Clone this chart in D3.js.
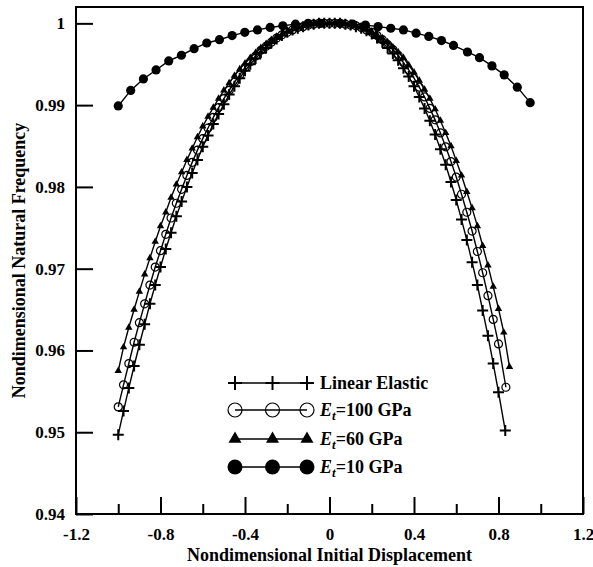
<!DOCTYPE html>
<head>
    <title>natural frequency vs initial displacement</title>
    <meta charset="utf-8">
    <style>
    body { margin: 0; background: #fff; }
    svg { display: block; }
    text {
        font-family: "Liberation Serif", "Times New Roman", serif;
        font-weight: bold;
        fill: #000;
    }
    .curve { fill: none; stroke: #000; stroke-width: 1.4; }
    </style>
    <script src="https://cdn.jsdelivr.net/npm/d3@7"></script>
</head>
<body>
<script>
// shared displacement steps for the dense series (left half, then right half)
const dispLeft = [-1.000,-0.975,-0.950,-0.925,-0.900,-0.875,-0.850,-0.825,-0.800,-0.775,
    -0.750,-0.725,-0.700,-0.675,-0.650,-0.625,-0.600,-0.575,-0.550,-0.525,
    -0.500,-0.475,-0.450,-0.425,-0.400,-0.375,-0.350,-0.325,-0.300,-0.275,
    -0.250,-0.225,-0.200,-0.175,-0.150,-0.125,-0.100,-0.075,-0.050,-0.025,0]
const dispRight = [0.025,0.050,0.075,0.100,0.125,0.150,0.175,0.200,0.225,0.250,
    0.275,0.300,0.325,0.350,0.375,0.400,0.425,0.450,0.475,0.500,
    0.525,0.550,0.575,0.600,0.625,0.650,0.675,0.700,0.725,0.750,0.775,0.800]

const linearElasticLeft = [0.9497,0.9526,0.9554,0.9581,0.9607,0.9632,0.9657,0.9680,0.9702,0.9724,
    0.9744,0.9764,0.9782,0.9800,0.9817,0.9833,0.9849,0.9863,0.9877,0.9889,
    0.9901,0.9913,0.9923,0.9933,0.9942,0.9950,0.9957,0.9964,0.9970,0.9976,
    0.9981,0.9985,0.9989,0.9992,0.9994,0.9996,0.9998,0.9999,1.0000,1.0000,1.0000]
const linearElasticRight = [1.0000,1.0000,0.9999,0.9998,0.9996,0.9994,0.9991,0.9987,0.9982,0.9977,
    0.9970,0.9963,0.9955,0.9945,0.9935,0.9923,0.9910,0.9896,0.9881,0.9864,
    0.9846,0.9827,0.9806,0.9784,0.9760,0.9735,0.9708,0.9680,0.9649,0.9618,0.9584,0.9549]
const linearElasticEnd = [[0.832, 0.9502]]

const et100Left = [0.9531,0.9558,0.9584,0.9610,0.9634,0.9657,0.9680,0.9702,0.9722,0.9742,
    0.9762,0.9780,0.9797,0.9814,0.9830,0.9845,0.9859,0.9872,0.9885,0.9897,
    0.9908,0.9918,0.9928,0.9937,0.9946,0.9953,0.9960,0.9967,0.9972,0.9977,
    0.9982,0.9986,0.9989,0.9992,0.9995,0.9996,0.9998,0.9999,1.0000,1.0000,1.0000]
const et100Right = [1.0000,1.0000,0.9999,0.9998,0.9997,0.9995,0.9992,0.9989,0.9985,0.9980,
    0.9974,0.9968,0.9961,0.9952,0.9943,0.9933,0.9922,0.9910,0.9896,0.9882,
    0.9866,0.9849,0.9831,0.9812,0.9791,0.9769,0.9746,0.9721,0.9695,0.9667,0.9638,0.9608]
const et100End = [[0.835, 0.9555]]

const et60Left = [0.9575,0.9604,0.9628,0.9650,0.9672,0.9693,0.9713,0.9733,0.9752,0.9769,
    0.9787,0.9803,0.9818,0.9833,0.9847,0.9861,0.9874,0.9886,0.9897,0.9908,
    0.9918,0.9927,0.9936,0.9944,0.9951,0.9958,0.9964,0.9970,0.9975,0.9980,
    0.9984,0.9987,0.9990,0.9993,0.9995,0.9997,0.9998,0.9999,1.0000,1.0000,1.0000]
const et60Right = [1.0000,1.0000,0.9999,0.9998,0.9997,0.9995,0.9993,0.9990,0.9986,0.9982,
    0.9977,0.9971,0.9965,0.9958,0.9949,0.9940,0.9930,0.9919,0.9908,0.9895,
    0.9881,0.9866,0.9850,0.9832,0.9814,0.9794,0.9774,0.9752,0.9728,0.9704,0.9678,0.9651]
const et60End = [[0.825, 0.9622], [0.852, 0.9580]]

const et10X = [-1.000,-0.941,-0.881,-0.821,-0.761,-0.701,-0.641,-0.581,-0.521,-0.461,-0.401,
    -0.341,-0.281,-0.221,-0.161,-0.101,-0.041,0.050,0.110,0.170,0.230,0.290,0.350,0.410,
    0.470,0.530,0.587,0.653,0.710,0.769,0.827,0.889,0.950]
const et10Y = [0.9899,0.9918,0.9932,0.9943,0.9954,0.9961,0.9969,0.9976,0.9980,0.9985,0.9989,
    0.9992,0.9995,0.9997,0.9999,1.0000,1.0000,1.0000,0.9999,0.9998,0.9996,0.9994,0.9992,0.9988,
    0.9984,0.9979,0.9973,0.9965,0.9958,0.9948,0.9937,0.9922,0.9903]

const xTicks = [-1.2, -0.8, -0.4, 0, 0.4, 0.8, 1.2]
const xTickLabels = ['-1.2', '-0.8', '-0.4', '0', '0.4', '0.8', '1.2']
const xMinorTicks = [-1.0, -0.6, -0.2, 0.2, 0.6, 1.0]
const yTicks = [0.94, 0.95, 0.96, 0.97, 0.98, 0.99, 1.0]
const yTickLabels = ['0.94', '0.95', '0.96', '0.97', '0.98', '0.99', '1']

const seriesNames = ['Linear Elastic', '100 GPa', '60 GPa', '10 GPa']
const seriesMarkers = ['plus', 'open', 'triangle', 'dot']

function zipPts(xs, ys) { return xs.map((d, i) => [d, ys[i]]) }

const series = [
    zipPts(dispLeft, linearElasticLeft).concat(zipPts(dispRight, linearElasticRight), linearElasticEnd),
    zipPts(dispLeft, et100Left).concat(zipPts(dispRight, et100Right), et100End),
    zipPts(dispLeft, et60Left).concat(zipPts(dispRight, et60Right), et60End),
    zipPts(et10X, et10Y)
]

const W = 593, H = 567
const margin = {top: 7, right: 10, bottom: 53, left: 76}
const width = W - margin.left - margin.right
const height = H - margin.top - margin.bottom

const x = d3.scaleLinear().domain([-1.2, 1.2]).range([0, width])
const y = d3.scaleLinear().domain([0.94, 1.002]).range([height, 0])

const svg = d3.select('body').append('svg')
    .attr('width', W)
    .attr('height', H)
  .append('g')
    .attr('transform', `translate(${margin.left},${margin.top})`)

// axes, ticks point inward
svg.append('g')
    .attr('transform', `translate(0,${height})`)
    .call(d3.axisBottom(x).tickValues(xTicks).tickSizeInner(-17).tickSizeOuter(0)
        .tickPadding(14).tickFormat((d, i) => xTickLabels[i]))
svg.append('g')
    .attr('transform', `translate(0,${height})`)
    .call(d3.axisBottom(x).tickValues(xMinorTicks).tickSizeInner(-10).tickSizeOuter(0).tickFormat(''))
svg.append('g')
    .call(d3.axisLeft(y).tickValues(yTicks).tickSizeInner(-17).tickSizeOuter(0)
        .tickPadding(11).tickFormat((d, i) => yTickLabels[i]))

svg.selectAll('.domain').remove()
svg.selectAll('.tick line').attr('stroke', '#000').attr('stroke-width', 2)
svg.selectAll('.tick text')
    .attr('font-family', null).attr('font-size', null)
    .style('font-size', '17px')

svg.append('rect')
    .attr('width', width).attr('height', height)
    .attr('fill', 'none').attr('stroke', '#000').attr('stroke-width', 2)

// markers
function drawMarker(sel, kind, s) {
    if (kind === 'plus') {
        sel.append('path')
            .attr('d', `M${-s},0H${s}M0,${-s}V${s}`)
            .attr('stroke', '#000').attr('stroke-width', 2).attr('fill', 'none')
    } else if (kind === 'open') {
        sel.append('circle').attr('r', s)
            .attr('fill', 'none').attr('stroke', '#000').attr('stroke-width', 1.2)
    } else if (kind === 'triangle') {
        sel.append('path')
            .attr('d', d3.symbol(d3.symbolTriangle, s * s * 1.3)())
            .attr('fill', '#000')
    } else {
        sel.append('circle').attr('r', s).attr('fill', '#000')
    }
}

const line = d3.line().x(d => x(d[0])).y(d => y(d[1]))
const markerSize = [5.5, 4, 4.3, 4.6]

series.forEach((pts, k) => {
    svg.append('path').datum(pts).attr('class', 'curve').attr('d', line)
    svg.append('g').selectAll('g')
        .data(pts)
        .join('g')
        .attr('transform', d => `translate(${x(d[0])},${y(d[1])})`)
        .each(function () { drawMarker(d3.select(this), seriesMarkers[k], markerSize[k]) })
})

// legend
const legendRows = [383, 410, 439, 467]
const legendX = [235, 272.5, 307]
const legendSize = [7, 7, 7.5, 7.5]
const lg = d3.select('svg').append('g')
seriesNames.forEach((name, k) => {
    const row = lg.append('g').attr('transform', `translate(0,${legendRows[k]})`)
    row.append('line')
        .attr('x1', legendX[0]).attr('x2', legendX[2])
        .attr('stroke', '#000').attr('stroke-width', 1.5)
    legendX.forEach(px => {
        drawMarker(row.append('g').attr('transform', `translate(${px},0)`), seriesMarkers[k], legendSize[k])
    })
    const t = row.append('text').attr('x', 320).attr('y', 6).style('font-size', '18px')
    if (k === 0) {
        t.text(name)
    } else {
        t.append('tspan').style('font-style', 'italic').text('E')
        t.append('tspan').style('font-style', 'italic').style('font-size', '13px').attr('dy', 4).text('t')
        t.append('tspan').attr('dy', -4).text('=' + name)
    }
})

// axis titles
d3.select('svg').append('text')
    .attr('x', margin.left + x(0)).attr('y', 561)
    .attr('text-anchor', 'middle')
    .style('font-size', '18px')
    .text('Nondimensional Initial Displacement')

d3.select('svg').append('text')
    .attr('transform', `translate(25,${margin.top + height / 2}) rotate(-90)`)
    .attr('text-anchor', 'middle')
    .style('font-size', '18px')
    .text('Nondimensional Natural Frequency')
</script>
</body>
</html>
